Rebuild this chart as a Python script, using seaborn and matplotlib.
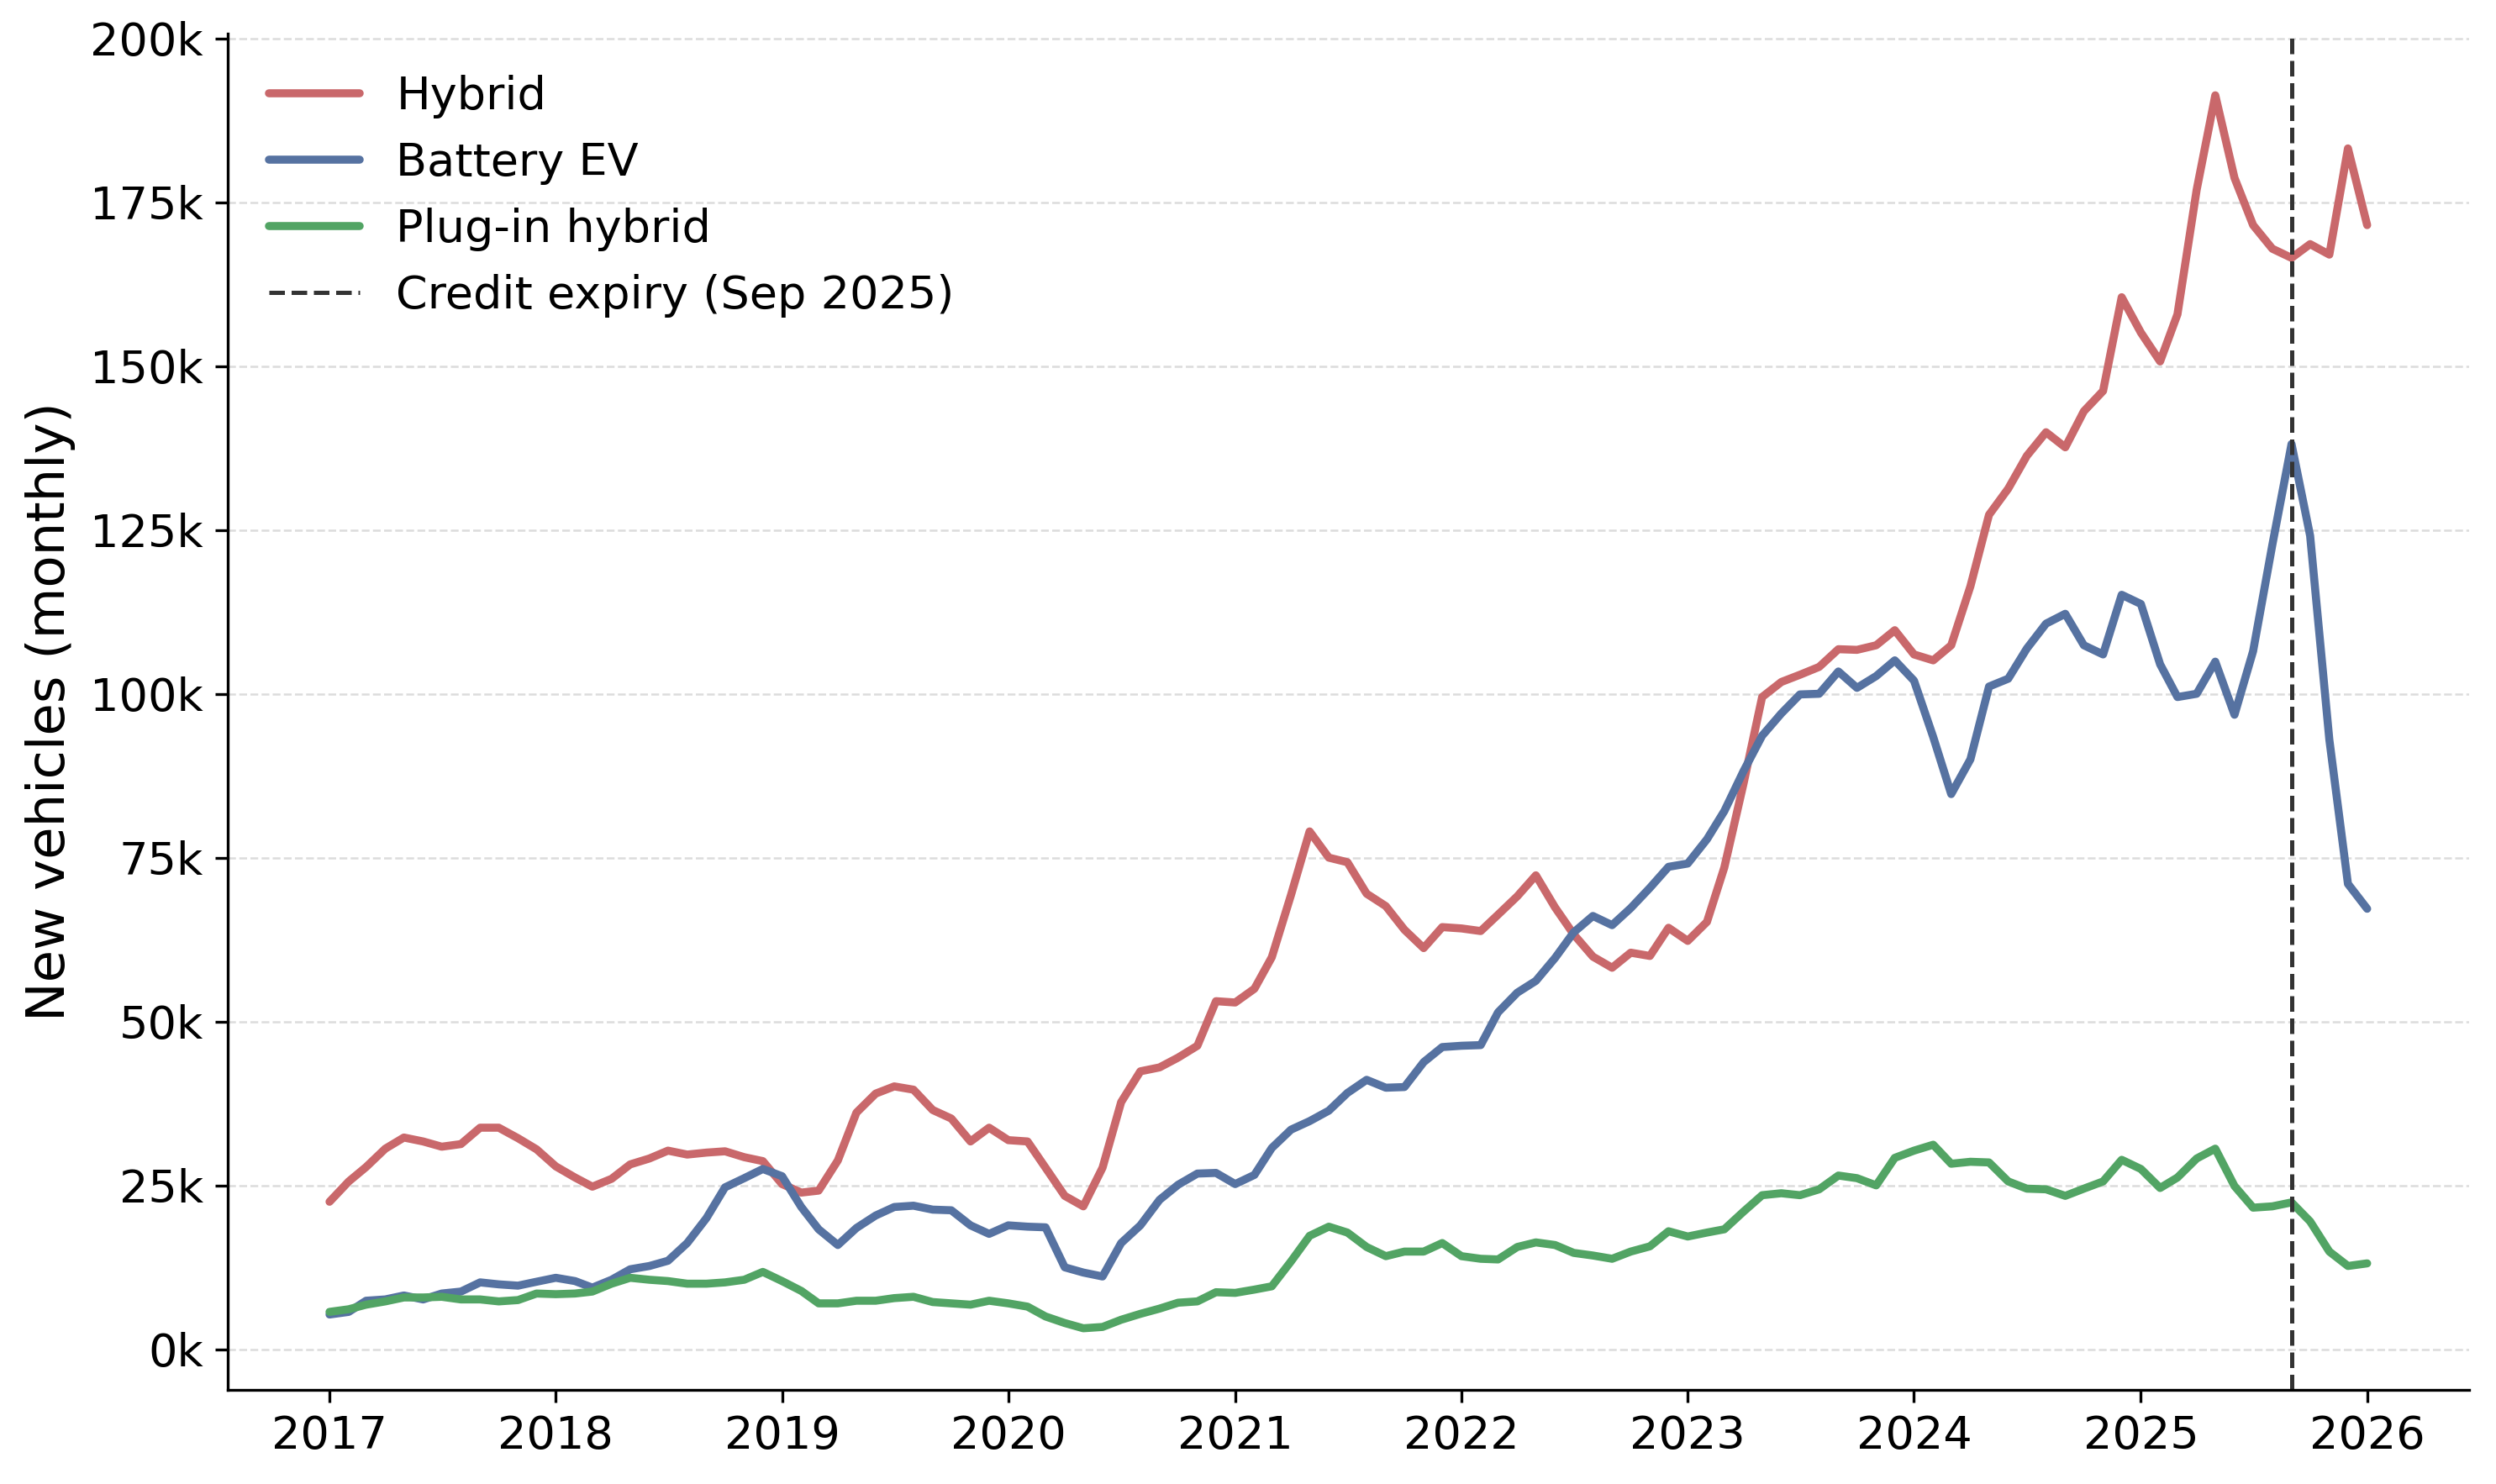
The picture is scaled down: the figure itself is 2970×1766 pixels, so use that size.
import numpy as np
import pandas as pd
import matplotlib
matplotlib.use("Agg")
import matplotlib.pyplot as plt
import matplotlib.dates as mdates
from matplotlib.ticker import MultipleLocator, FuncFormatter
import seaborn as sns

# ---- data (thousands of vehicles per month), Jan 2017 .. Jan 2026 ----
months = pd.date_range("2017-01-01", "2026-01-01", freq="MS")

hybrid = [
    22.5, 25.6, 27.8, 30.6, 32.3, 31.7, 30.9, 31.3, 33.8, 33.8, 32.2, 30.5,
    27.9, 26.2, 24.8, 26.0, 28.2, 29.1, 30.3, 29.7, 30.0, 30.2, 29.3, 28.7,
    25.2, 23.9, 24.2, 28.8, 36.1, 39.0, 40.1, 39.6, 36.5, 35.2, 31.7, 33.8,
    31.9, 31.7, 27.7, 23.4, 21.8, 27.7, 37.7, 42.4, 43.0, 44.5, 46.3, 53.1,
    52.9, 55.0, 59.8, 69.3, 79.0, 75.0, 74.3, 69.5, 67.6, 64.0, 61.2, 64.4,
    64.2, 63.8, 66.3, 69.1, 72.3, 67.4, 63.3, 59.9, 58.2, 60.5, 60.0, 64.3,
    62.3, 65.2, 73.5, 86.3, 99.5, 101.8, 102.9, 104.1, 106.8, 106.7, 107.4, 109.7,
    106.0, 105.1, 107.4, 116.4, 127.3, 131.3, 136.3, 139.9, 137.6, 143.1, 146.2, 160.5,
    155.1, 150.7, 157.9, 176.9, 191.3, 178.7, 171.5, 167.9, 166.5, 168.6, 167.0, 183.2,
    171.5,
]

battery_ev = [
    5.3, 5.7, 7.4, 7.6, 8.2, 7.6, 8.5, 8.8, 10.2, 9.9, 9.7, 10.3,
    10.9, 10.4, 9.4, 10.6, 12.2, 12.7, 13.5, 16.2, 20.0, 24.7, 26.1, 27.5,
    26.4, 21.7, 18.3, 15.9, 18.5, 20.4, 21.7, 21.9, 21.3, 21.2, 18.9, 17.6,
    18.9, 18.7, 18.6, 12.5, 11.7, 11.1, 16.2, 18.9, 22.8, 25.1, 26.8, 26.9,
    25.2, 26.6, 30.7, 33.5, 34.8, 36.4, 39.1, 41.1, 39.9, 40.0, 43.8, 46.1,
    46.3, 46.4, 51.4, 54.4, 56.2, 59.7, 63.6, 66.1, 64.7, 67.3, 70.4, 73.6,
    74.1, 77.8, 82.1, 88.2, 93.6, 97.0, 99.9, 100.0, 103.4, 100.9, 102.7, 105.1,
    102.0, 93.4, 84.7, 90.0, 101.1, 102.3, 106.9, 110.7, 112.2, 107.4, 106.0, 115.1,
    113.7, 104.5, 99.5, 100.0, 104.9, 96.8, 106.5, 122.7, 138.1, 124.1, 93.0, 71.0,
    67.2,
]

plug_in_hybrid = [
    5.7, 6.1, 6.8, 7.3, 7.9, 7.9, 8.0, 7.6, 7.6, 7.3, 7.5, 8.5,
    8.4, 8.5, 8.8, 10.0, 10.9, 10.6, 10.4, 10.0, 10.0, 10.2, 10.6, 11.8,
    10.4, 8.9, 7.0, 7.0, 7.4, 7.4, 7.8, 8.0, 7.2, 7.0, 6.8, 7.4,
    7.0, 6.5, 5.0, 4.0, 3.2, 3.4, 4.5, 5.4, 6.2, 7.1, 7.3, 8.7,
    8.6, 9.1, 9.6, 13.4, 17.3, 18.7, 17.8, 15.6, 14.2, 14.9, 14.9, 16.2,
    14.2, 13.8, 13.7, 15.6, 16.3, 15.9, 14.7, 14.3, 13.8, 14.9, 15.7, 18.0,
    17.2, 17.8, 18.3, 21.0, 23.5, 23.8, 23.5, 24.4, 26.5, 26.1, 25.0, 29.2,
    30.3, 31.2, 28.3, 28.6, 28.5, 25.6, 24.5, 24.4, 23.4, 24.5, 25.6, 28.9,
    27.5, 24.6, 26.2, 29.1, 30.6, 24.9, 21.6, 21.8, 22.4, 19.5, 14.9, 12.7,
    13.1,
]

series_names = ["Hybrid", "Battery EV", "Plug-in hybrid"]
series_colors = ["#C9686B", "#5672A1", "#52A464"]
credit_expiry = pd.Timestamp("2025-09-01")
credit_label = "Credit expiry (Sep 2025)"

df = pd.DataFrame({
    "date": np.tile(months, 3),
    "vehicles": np.concatenate([hybrid, battery_ev, plug_in_hybrid]) * 1000,
    "type": np.repeat(series_names, len(months)),
})

# ---- style ----
sns.set_theme(style="ticks")
plt.rcParams["font.family"] = ["DejaVu Sans"]
plt.rcParams["axes.edgecolor"] = "black"
plt.rcParams["xtick.color"] = "black"
plt.rcParams["ytick.color"] = "black"
plt.rcParams["axes.labelcolor"] = "black"
plt.rcParams["text.color"] = "black"

fig = plt.figure(figsize=(9.9, 5.8867), dpi=300)
ax = fig.add_axes([0.0912, 0.0634, 0.9892 - 0.0912, 0.9773 - 0.0634])

sns.lineplot(
    data=df, x="date", y="vehicles", hue="type",
    hue_order=series_names, palette=series_colors,
    linewidth=2.3, ax=ax,
)
ax.axvline(credit_expiry, color="#333333", linestyle="--", linewidth=1.2,
           label=credit_label)

# axes formatting
ax.yaxis.set_major_locator(MultipleLocator(25000))
ax.yaxis.set_major_formatter(FuncFormatter(lambda v, p: f"{int(round(v / 1000))}k"))
ax.xaxis.set_major_locator(mdates.YearLocator())
ax.xaxis.set_major_formatter(mdates.DateFormatter("%Y"))
ax.tick_params(axis="both", labelsize=13, length=3.5, width=0.8, color="black")
ax.set_xlabel("")
ax.set_ylabel("New vehicles (monthly)", fontsize=15)
ax.grid(axis="y", linestyle="--", linewidth=0.6, color="#dcdcdc")
ax.grid(axis="x", visible=False)
ax.set_axisbelow(True)
for s in ["left", "bottom"]:
    ax.spines[s].set_linewidth(0.8)
    ax.spines[s].set_color("black")
sns.despine(ax=ax)

handles, labels = ax.get_legend_handles_labels()
leg = ax.legend(handles=handles, labels=labels, loc="upper left",
                frameon=False, fontsize=13)
for h in leg.get_lines()[:3]:
    h.set_linewidth(2.3)

fig.savefig("out.png", dpi=300)
